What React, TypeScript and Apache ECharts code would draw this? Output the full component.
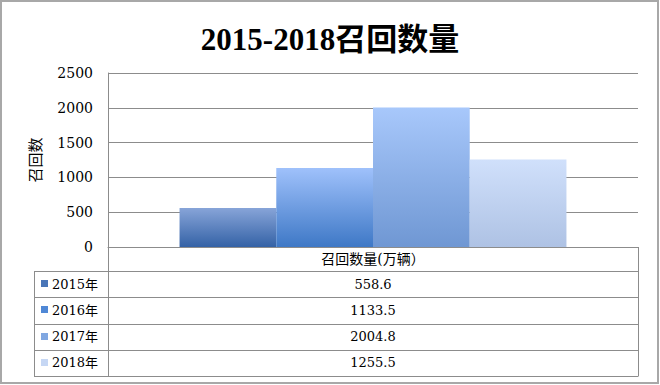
import React, { useEffect, useRef } from "react";
import * as echarts from "echarts";

const titleText = "2015-2018召回数量";
const categories = ["召回数量(万辆）"];
const years = ["2015年", "2016年", "2017年", "2018年"];
const values = [558.6, 1133.5, 2004.8, 1255.5];
const yAxisName = "召回数";
const yMin = 0;
const yMax = 2500;
const yInterval = 500;

const topColors = ["#87a4d8", "#9fc1fb", "#a8c8fb", "#d0e0fb"];
const bottomColors = ["#3462a6", "#3e78c6", "#6f97d3", "#aec2e4"];
const keyColors = ["#4a76b8", "#4f88d6", "#80a7e1", "#c6d7f4"];

export default function App() {
  const ref = useRef<HTMLDivElement>(null);
  useEffect(() => {
    if (!ref.current) return;
    const chart = echarts.init(ref.current, null, { renderer: "svg" });
    const gridLeft = 108;
    const gridRight = 638;
    const gridTop = 73;
    const gridBottom = 247;
    const tableLeft = 34;
    const headerBottom = 271;
    const rowH = 26.25;
    const lineColor = "#8c8c8c";
    const serif = "DejaVu Serif, Noto Sans CJK SC";
    const centerX = (gridLeft + gridRight) / 2;

    const graphics: any[] = [];
    graphics.push({
      type: "rect",
      shape: { x: 1, y: 1, width: 657, height: 382 },
      style: { fill: "none", stroke: "#a8a8a8", lineWidth: 2 },
      silent: true,
    });
    const tableBottom = headerBottom + rowH * years.length;
    for (let i = 0; i <= years.length; i++) {
      const y = Math.round(headerBottom + rowH * i) + 0.5;
      graphics.push({
        type: "line",
        shape: { x1: tableLeft, y1: y, x2: gridRight, y2: y },
        style: { stroke: lineColor, lineWidth: 1 },
        silent: true,
      });
    }
    [
      [tableLeft, headerBottom],
      [gridLeft, gridBottom],
      [gridRight, gridBottom],
    ].forEach(([x, y0]) => {
      graphics.push({
        type: "line",
        shape: { x1: x + 0.5, y1: y0, x2: x + 0.5, y2: Math.round(tableBottom) + 0.5 },
        style: { stroke: lineColor, lineWidth: 1 },
        silent: true,
      });
    });
    years.forEach((yr, i) => {
      const cy = headerBottom + rowH * i + rowH / 2;
      graphics.push({
        type: "rect",
        shape: { x: 41, y: Math.round(cy) - 4, width: 7, height: 7 },
        style: { fill: keyColors[i] },
        silent: true,
      });
      graphics.push({
        type: "text",
        x: 52,
        y: cy,
        style: {
          text: yr,
          fontFamily: serif,
          fontSize: 13,
          fill: "#000",
          textAlign: "left",
          textVerticalAlign: "middle",
        },
        silent: true,
      });
      graphics.push({
        type: "text",
        x: centerX,
        y: cy,
        style: {
          text: values[i].toFixed(1),
          fontFamily: serif,
          fontSize: 13,
          fill: "#000",
          textAlign: "center",
          textVerticalAlign: "middle",
        },
        silent: true,
      });
    });

    chart.setOption({
      animation: false,
      title: {
        text: titleText,
        left: "center",
        top: 19,
        textStyle: {
          fontFamily: "Liberation Serif, Noto Sans CJK SC",
          fontSize: 31,
          fontWeight: "bold",
          color: "#000",
        },
      },
      grid: {
        left: gridLeft,
        right: 660 - gridRight,
        top: gridTop,
        bottom: 385 - gridBottom,
        containLabel: false,
      },
      xAxis: {
        type: "category",
        data: categories,
        axisTick: { show: false },
        axisLine: { show: true, lineStyle: { color: lineColor, width: 1 } },
        axisLabel: {
          margin: 5,
          fontFamily: serif,
          fontSize: 14,
          color: "#000",
        },
      },
      yAxis: {
        type: "value",
        min: yMin,
        max: yMax,
        interval: yInterval,
        name: yAxisName,
        nameLocation: "middle",
        nameRotate: 90,
        nameGap: 66,
        nameTextStyle: {
          fontFamily: "Noto Sans CJK SC",
          fontSize: 15,
          color: "#000",
        },
        axisLine: { show: true, lineStyle: { color: lineColor, width: 1 } },
        axisTick: { show: false },
        axisLabel: {
          margin: 15,
          fontFamily: serif,
          fontSize: 14,
          color: "#000",
          formatter: (v: number) => String(v),
        },
        splitLine: { show: true, lineStyle: { color: lineColor, width: 1 } },
      },
      series: years.map((yr, i) => ({
        type: "bar",
        name: yr,
        data: [values[i]],
        barGap: "0%",
        barCategoryGap: "27%",
        itemStyle: {
          color: new echarts.graphic.LinearGradient(0, 0, 0, 1, [
            { offset: 0, color: topColors[i] },
            { offset: 1, color: bottomColors[i] },
          ]),
        },
      })),
      graphic: graphics,
    });
    return () => chart.dispose();
  }, []);
  return (
    <div
      ref={ref}
      style={{ position: "absolute", left: 0, top: 0, width: 660, height: 385, background: "#fff" }}
    />
  );
}
